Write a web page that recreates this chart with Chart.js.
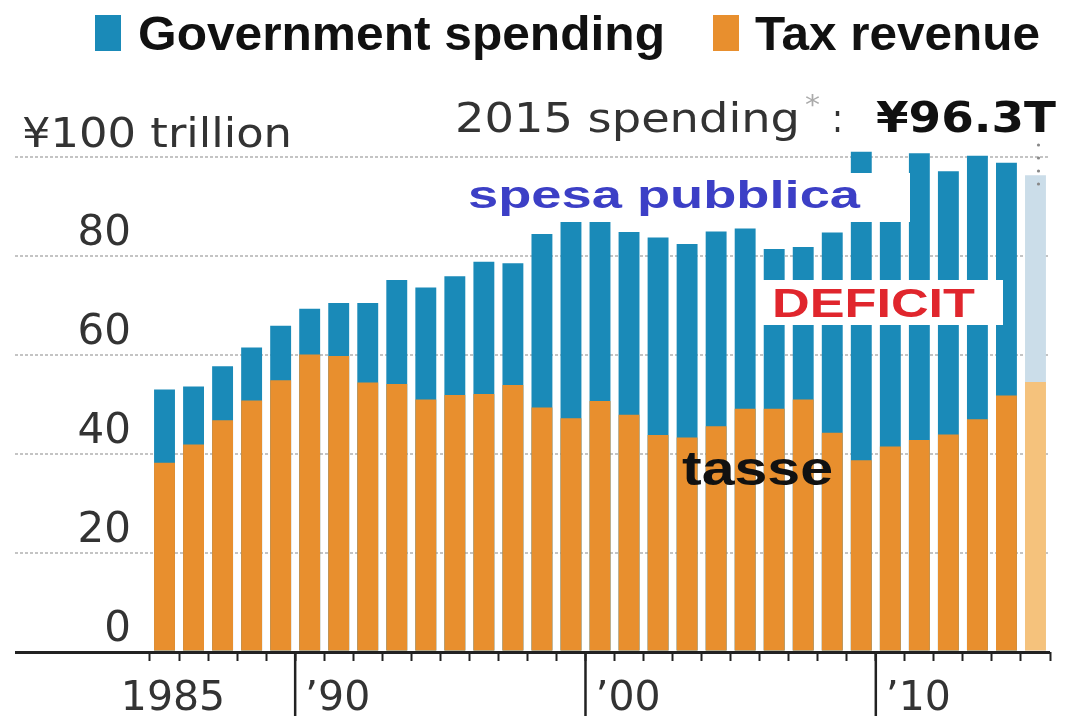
<!DOCTYPE html>
<html>
<head>
<meta charset="utf-8">
<script src="https://cdn.jsdelivr.net/npm/chart.js@4/dist/chart.umd.min.js"></script>
<style>
  html, body { margin: 0; padding: 0; background: #fff; }
  #wrap { width: 1065px; height: 716px; }
</style>
</head>
<body>
<div id="wrap"><canvas id="chart" width="1065" height="716"></canvas></div>
<script>
// Fiscal years shown on the x axis
const years = ['1985', '1986', '1987', '1988', '1989', '1990', '1991', '1992', '1993', '1994',
  '1995', '1996', '1997', '1998', '1999', '2000', '2001', '2002', '2003', '2004',
  '2005', '2006', '2007', '2008', '2009', '2010', '2011', '2012', '2013', '2014', '2015'];

// Government spending, trillion yen
const govSpending = [53.0, 53.6, 57.7, 61.5, 65.9, 69.3, 70.5, 70.5, 75.1, 73.6,
  75.9, 78.8, 78.5, 84.4, 89.0, 89.3, 84.8, 83.7, 82.4, 84.9,
  85.5, 81.4, 81.8, 84.7, 101.0, 95.3, 100.7, 97.1, 100.2, 98.8, 96.3];

// Tax revenue, trillion yen
const taxRevenue = [38.2, 41.9, 46.8, 50.8, 54.9, 60.1, 59.8, 54.4, 54.1, 51.0,
  51.9, 52.1, 53.9, 49.4, 47.2, 50.7, 47.9, 43.8, 43.3, 45.6,
  49.1, 49.1, 51.0, 44.3, 38.7, 41.5, 42.8, 43.9, 47.0, 51.8, 54.5];

// Labelled years on the x axis and their text
const decadeYears = ['1985', '1990', '2000', '2010'];
const decadeLabels = ['1985', '\u201990', '\u201900', '\u201910'];
const longTickYears = ['1990', '2000', '2010'];

const BLUE = '#1a8ab8';
const ORANGE = '#e88f2e';
const BLUE_LIGHT = '#cbdde9';
const ORANGE_LIGHT = '#f5c27c';
const lastIndex = years.length - 1; // 2015 is a budget figure, drawn lighter

function fitText(ctx, text, x, y, width, font, color) {
  ctx.save();
  ctx.font = font;
  ctx.fillStyle = color;
  ctx.textBaseline = 'alphabetic';
  ctx.textAlign = 'left';
  const w = ctx.measureText(text).width;
  ctx.translate(x, y);
  ctx.scale(width / w, 1);
  ctx.fillText(text, 0, 0);
  ctx.restore();
}

// Header texts, legend, Italian notes and the long decade ticks
const overlay = {
  id: 'overlay',
  afterDatasetsDraw(chart) {
    const { ctx } = chart;
    ctx.save();
    ctx.fillStyle = '#ffffff';
    ctx.fillRect(458, 173, 452, 49);
    ctx.fillRect(762, 280, 241, 45);
    ctx.restore();
    fitText(ctx, 'spesa pubblica', 468, 208, 392, 'bold 38px "Liberation Sans"', '#3c3fc6');
    fitText(ctx, 'DEFICIT', 772, 317, 203, 'bold 40px "Liberation Sans"', '#e0262d');
    fitText(ctx, 'tasse', 682, 485, 151, 'bold 48px "Liberation Sans"', '#111111');
  },
  afterDraw(chart) {
    const { ctx } = chart;
    const x = chart.scales.x;
    const y = chart.scales.y;

    // legend
    ctx.fillStyle = BLUE;
    ctx.fillRect(95, 15, 26, 36);
    fitText(ctx, 'Government spending', 138, 50, 527, 'bold 48px "Liberation Sans"', '#111111');
    ctx.fillStyle = ORANGE;
    ctx.fillRect(713, 15, 26, 36);
    fitText(ctx, 'Tax revenue', 755, 50, 285, 'bold 48px "Liberation Sans"', '#111111');

    // unit label and 2015 note
    fitText(ctx, '\u00a5100 trillion', 22, 147, 270, '40px "DejaVu Sans"', '#333333');
    fitText(ctx, '2015 spending', 455, 132, 345, '40px "DejaVu Sans"', '#333333');
    fitText(ctx, '*', 805, 114, 15, '26px "DejaVu Sans"', '#aaaaaa');
    fitText(ctx, ':', 832, 132, 11, '40px "DejaVu Sans"', '#333333');
    fitText(ctx, '\u00a596.3T', 876, 132, 180, 'bold 42px "DejaVu Sans"', '#111111');

    // dotted leader to the 2015 bar
    const bx = x.getPixelForValue(lastIndex) + 3;
    const top = y.getPixelForValue(govSpending[lastIndex]);
    ctx.fillStyle = '#888888';
    for (let dy = 145; dy < top + 10; dy += 13) {
      ctx.beginPath();
      ctx.arc(bx, dy, 1.6, 0, Math.PI * 2);
      ctx.fill();
    }

    // long ticks at the decades
    const step = x.getPixelForValue(1) - x.getPixelForValue(0);
    ctx.save();
    ctx.strokeStyle = '#222222';
    ctx.lineWidth = 2.5;
    longTickYears.forEach((yr) => {
      const px = x.getPixelForValue(years.indexOf(yr)) - step / 2;
      ctx.beginPath();
      ctx.moveTo(px, y.bottom);
      ctx.lineTo(px, 716);
      ctx.stroke();
    });
    ctx.restore();
  },
};

Chart.defaults.font.family = '"DejaVu Sans"';

const chart = new Chart(document.getElementById('chart').getContext('2d'), {
  type: 'bar',
  data: {
    labels: years,
    datasets: [
      {
        label: 'Tax revenue',
        data: taxRevenue,
        backgroundColor: years.map((yr, i) => (i === lastIndex ? ORANGE_LIGHT : ORANGE)),
        grouped: false,
        order: 0,
        barPercentage: 0.72,
        categoryPercentage: 1,
      },
      {
        label: 'Government spending',
        data: govSpending,
        backgroundColor: years.map((yr, i) => (i === lastIndex ? BLUE_LIGHT : BLUE)),
        grouped: false,
        order: 1,
        barPercentage: 0.72,
        categoryPercentage: 1,
      },
    ],
  },
  options: {
    responsive: false,
    animation: false,
    devicePixelRatio: 1,
    layout: {
      padding: { left: 15, right: 15, top: 137, bottom: 0 },
    },
    plugins: {
      legend: { display: false },
      tooltip: { enabled: false },
    },
    scales: {
      x: {
        offset: true,
        grid: {
          offset: true,
          drawOnChartArea: false,
          drawTicks: true,
          tickLength: 9,
          tickColor: '#222222',
          tickWidth: 2,
        },
        border: { display: false },
        ticks: {
          autoSkip: false,
          maxRotation: 0,
          padding: 14,
          labelOffset: 28,
          color: '#333333',
          font: { size: 41 },
          callback: (value, index) => {
            const k = decadeYears.indexOf(years[index]);
            if (k < 0) return '';
            // 1985 sits further left than the decade labels
            return k === 0 ? `${decadeLabels[k]}\u00a0\u00a0\u00a0` : decadeLabels[k];
          },
        },
        afterFit: (scale) => { scale.height = 64; },
      },
      y: {
        min: 0,
        max: 104,
        grid: {
          color: (c) => (c.tick && c.tick.value === 0 ? '#222222' : '#c4c4c4'),
          lineWidth: (c) => (c.tick && c.tick.value === 0 ? 3 : 2),
          tickLength: 135,
          tickBorderDash: (c) => (c.tick && c.tick.value === 0 ? [] : [3, 2]),
        },
        border: {
          display: false,
          dash: (c) => (c.tick && c.tick.value === 0 ? [] : [3, 2]),
        },
        ticks: {
          stepSize: 20,
          includeBounds: false,
          padding: -116,
          labelOffset: -22,
          color: '#333333',
          font: { size: 42 },
          callback: (v) => (v === 100 ? '' : v),
        },
        afterFit: (scale) => { scale.width = 135; },
      },
    },
  },
  plugins: [overlay],
});
</script>
</body>
</html>
